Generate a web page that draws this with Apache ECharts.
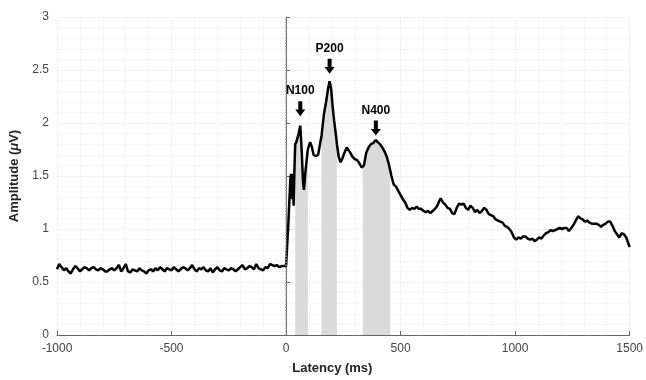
<!DOCTYPE html>
<html>
<head>
<meta charset="utf-8">
<script src="https://cdn.jsdelivr.net/npm/echarts@6/dist/echarts.min.js"></script>
<style>
  html, body {margin: 0; padding: 0; background: #fff;}
  #chart {width: 646px; height: 380px;}
</style>
</head>
<body>
<div id="chart"></div>
<script>
// ERP waveform
const latencyMs = [
  -1000,-990,-980,-970,-960,-950,-940,-930,-920,-910,
  -900,-890,-880,-870,-860,-850,-840,-830,-820,-810,
  -800,-790,-780,-770,-760,-750,-740,-730,-720,-710,
  -700,-690,-680,-670,-660,-650,-640,-630,-620,-610,
  -600,-590,-580,-570,-560,-550,-540,-530,-520,-510,
  -500,-490,-480,-470,-460,-450,-440,-430,-420,-410,
  -400,-390,-380,-370,-360,-350,-340,-330,-320,-310,
  -300,-290,-280,-270,-260,-250,-240,-230,-220,-210,
  -200,-190,-180,-170,-160,-150,-140,-130,-120,-110,
  -100,-90,-80,-70,-60,-50,-40,-30,-20,-10,
  0,5,10,15,19,22,26,29,33,37,
  40,45,55,62,68,74,78,85,95,105,
  112,120,130,140,150,155,165,175,183,190,
  197,203,210,218,222,230,238,245,255,265,
  272,280,290,300,310,320,330,335,340,350,
  360,370,380,392,400,410,420,430,440,450,
  455,460,470,480,490,500,510,520,530,540,
  550,560,570,580,590,600,610,620,630,640,
  650,660,670,675,685,695,705,715,725,735,
  745,755,765,775,785,795,805,815,825,835,
  845,855,865,875,885,895,905,915,925,935,
  945,955,965,975,985,995,1005,1015,1025,1035,
  1045,1055,1065,1075,1085,1095,1105,1115,1125,1135,
  1145,1155,1165,1175,1185,1195,1205,1215,1225,1235,
  1245,1255,1265,1275,1285,1295,1305,1315,1325,1335,
  1345,1355,1365,1375,1385,1395,1405,1415,1425,1435,
  1445,1455,1465,1475,1485,1495,1500
];
const amplitudeUv = [
  0.62,0.67,0.64,0.61,0.63,0.60,0.58,0.62,0.65,0.63,
  0.60,0.62,0.64,0.63,0.61,0.63,0.64,0.62,0.61,0.63,
  0.62,0.60,0.60,0.62,0.63,0.61,0.63,0.66,0.60,0.63,
  0.67,0.60,0.59,0.62,0.61,0.60,0.63,0.61,0.60,0.58,
  0.61,0.62,0.60,0.63,0.61,0.64,0.62,0.60,0.63,0.62,
  0.61,0.64,0.62,0.60,0.62,0.64,0.63,0.61,0.63,0.66,
  0.62,0.60,0.63,0.62,0.64,0.61,0.60,0.63,0.59,0.62,
  0.64,0.61,0.60,0.63,0.62,0.61,0.63,0.62,0.60,0.62,
  0.64,0.66,0.62,0.63,0.65,0.64,0.62,0.67,0.63,0.62,
  0.61,0.64,0.63,0.67,0.66,0.65,0.66,0.64,0.65,0.65,
  0.65,0.66,1.05,1.30,1.48,1.52,1.28,1.52,1.22,1.60,
  1.80,1.82,1.90,1.975,1.75,1.45,1.37,1.55,1.75,1.82,
  1.78,1.70,1.69,1.70,1.82,1.88,2.08,2.20,2.32,2.395,
  2.32,2.16,2.02,1.88,1.80,1.68,1.63,1.66,1.72,1.77,
  1.76,1.72,1.68,1.66,1.65,1.62,1.58,1.57,1.60,1.72,
  1.77,1.80,1.81,1.84,1.82,1.80,1.77,1.73,1.68,1.60,
  1.55,1.50,1.42,1.40,1.36,1.32,1.28,1.25,1.20,1.18,
  1.20,1.19,1.21,1.19,1.19,1.17,1.16,1.17,1.15,1.17,
  1.19,1.22,1.27,1.29,1.25,1.23,1.20,1.19,1.15,1.14,
  1.20,1.24,1.23,1.24,1.20,1.18,1.22,1.20,1.16,1.18,
  1.15,1.17,1.20,1.18,1.14,1.13,1.12,1.09,1.08,1.07,
  1.06,1.03,1.02,1.00,0.97,0.92,0.90,0.92,0.91,0.93,
  0.93,0.91,0.90,0.91,0.885,0.90,0.92,0.91,0.94,0.96,
  0.97,0.99,0.98,0.99,1.00,1.01,1.00,1.01,1.01,0.98,
  1.01,1.04,1.08,1.12,1.10,1.09,1.07,1.08,1.06,1.05,
  1.05,1.05,1.04,1.02,1.04,1.05,1.07,1.07,1.03,0.98,
  0.95,0.92,0.96,0.95,0.92,0.86,0.83
];

// shaded analysis windows (ms)
const windowStart = [40, 155, 335];
const windowEnd = [95, 222, 455];

// component labels
const peakNames = ['N100', 'P200', 'N400'];
const peakLatency = [62, 190, 392];
const peakAmp = [1.975, 2.395, 1.84];
const arrowLift = [17, 15, 12];

const pairs = latencyMs.map((t, i) => [t, amplitudeUv[i]]);
const font = 'Liberation Sans, Arial, sans-serif';

const shadeSeries = windowStart.map((s, k) => ({
  type: 'line',
  data: pairs.filter(p => p[0] >= s && p[0] <= windowEnd[k]),
  symbol: 'none',
  lineStyle: {width: 0},
  areaStyle: {color: '#dadada', opacity: 1},
  silent: true,
  z: 1
}));

const chart = echarts.init(document.getElementById('chart'));
chart.setOption({
  animation: false,
  grid: {left: 57, right: 15, top: 17, bottom: 42},
  xAxis: {
    type: 'value',
    min: -1000, max: 1500, interval: 500,
    name: 'Latency (ms)',
    nameLocation: 'middle',
    nameGap: 27,
    nameTextStyle: {fontFamily: font, fontWeight: 'bold', fontSize: 13, color: '#222', padding: [0, 22, 0, 0]},
    axisLine: {lineStyle: {color: '#666'}},
    axisTick: {inside: true, length: 4, lineStyle: {color: '#666'}},
    axisLabel: {fontFamily: font, fontSize: 12, color: '#444', margin: 8, formatter: v => String(v)},
    splitLine: {show: true, lineStyle: {color: '#e4e4e4', type: 'dotted'}},
    minorTick: {show: false, splitNumber: 5},
    minorSplitLine: {show: true, lineStyle: {color: '#ececec', type: 'dotted'}}
  },
  yAxis: {
    type: 'value',
    min: 0, max: 3, interval: 0.5,
    name: 'Amplitude ({i|μ}V)',
    nameLocation: 'middle',
    nameGap: 36,
    nameTextStyle: {
      fontFamily: font, fontWeight: 'bold', fontSize: 13, color: '#222',
      rich: {i: {fontFamily: font, fontWeight: 'bold', fontStyle: 'italic', fontSize: 13, color: '#222'}}
    },
    axisLine: {show: true, lineStyle: {color: '#666'}},
    axisTick: {show: true, inside: true, length: 4, lineStyle: {color: '#666'}},
    axisLabel: {fontFamily: font, fontSize: 12, color: '#444', margin: 8},
    splitLine: {show: true, lineStyle: {color: '#e4e4e4', type: 'dotted'}},
    minorTick: {show: false, splitNumber: 5},
    minorSplitLine: {show: true, lineStyle: {color: '#ececec', type: 'dotted'}}
  },
  series: [
    ...shadeSeries,
    {
      type: 'line',
      data: pairs,
      symbol: 'none',
      lineStyle: {color: '#000', width: 2.5},
      z: 3,
      markLine: {
        silent: true,
        symbol: 'none',
        label: {show: false},
        lineStyle: {color: '#999', type: 'dotted', width: 1.5},
        data: [{xAxis: 0}]
      },
      markPoint: {
        symbol: 'path://M3,0L7,0L7,9L10,9L5,16L0,9L3,9Z',
        symbolSize: [10, 15],
        itemStyle: {color: '#000'},
        label: {
          show: true, position: 'top', distance: 4,
          formatter: '{b}',
          fontFamily: font, fontWeight: 'bold', fontSize: 12, color: '#000'
        },
        data: peakNames.map((n, i) => ({
          name: n,
          coord: [peakLatency[i], peakAmp[i]],
          symbolOffset: [0, -arrowLift[i]]
        }))
      }
    }
  ]
});
</script>
</body>
</html>
